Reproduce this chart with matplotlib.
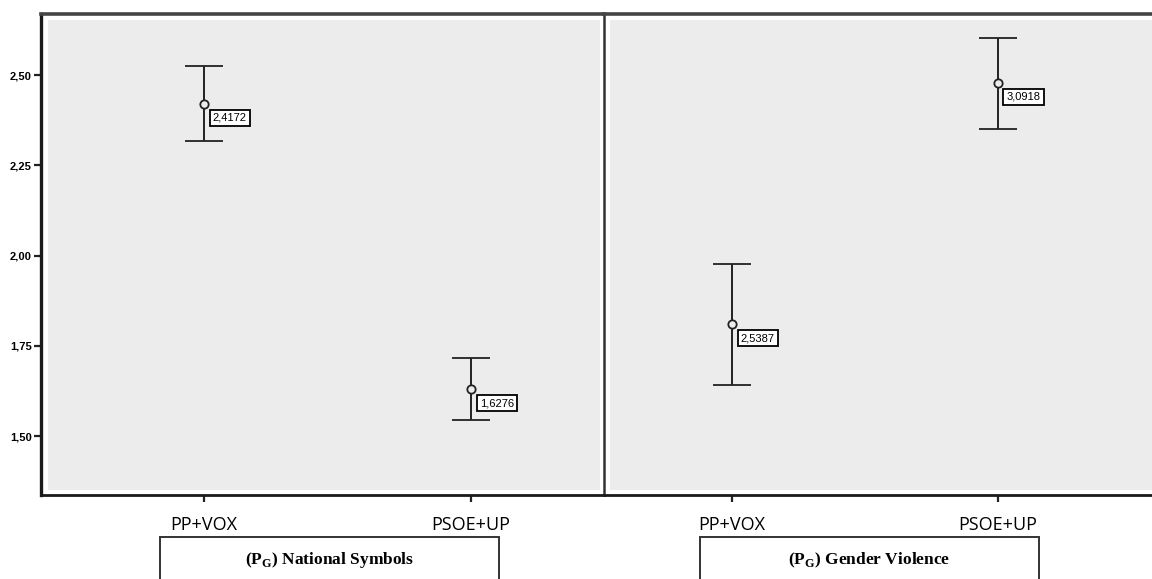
import matplotlib
matplotlib.use("Agg")
import matplotlib.pyplot as plt
from matplotlib.patches import Rectangle

# groups on the x axis of each panel
groups = ["PP+VOX", "PSOE+UP"]

# National Symbols panel (plotted mean and 95% CI ends)
ns_mean = [2.420, 1.630]
ns_low = [2.318, 1.544]
ns_high = [2.526, 1.716]
ns_labels = ["2,4172", "1,6276"]

# Gender Violence panel
gv_mean = [1.810, 2.478]
gv_low = [1.642, 2.350]
gv_high = [1.976, 2.602]
gv_labels = ["2,5387", "3,0918"]

panel_titles = ["National Symbols", "Gender Violence"]

yticks = [1.50, 1.75, 2.00, 2.25, 2.50]
ytick_labels = ["1,50", "1,75", "2,00", "2,25", "2,50"]

plt.rcParams['mathtext.fontset'] = 'custom'
plt.rcParams['mathtext.rm'] = 'Liberation Serif'
plt.rcParams['mathtext.bf'] = 'Liberation Serif:bold'

W, H = 1152, 579
fig = plt.figure(figsize=(W / 100, H / 100), dpi=100)

def px(x0, y0, x1, y1):
    # pixel box (top-left origin) -> figure fraction rect
    return [x0 / W, 1 - y1 / H, (x1 - x0) / W, (y1 - y0) / H]

ax1 = fig.add_axes(px(41, 14, 604, 495))
ax2 = fig.add_axes(px(604, 14, 1170, 495))

def draw_panel(ax, mean, low, high, labels, xlim, inset):
    ax.set_xlim(*xlim)
    ax.set_ylim(1.337, 2.669)
    # light grey plot area sitting inside the frame
    w = ax.get_position().width * W
    h = ax.get_position().height * H
    l, t, r, b = inset
    ax.add_patch(Rectangle((l / w, b / h), 1 - (l + r) / w, 1 - (t + b) / h,
                           transform=ax.transAxes, facecolor="#ececec",
                           edgecolor="none", zorder=0))
    x = list(range(len(groups)))
    yerr = [[m - lo for m, lo in zip(mean, low)], [hi - m for m, hi in zip(mean, high)]]
    ax.errorbar(x, mean, yerr=yerr, fmt="o", mfc="#ececec", mec="#222222",
                ms=6, mew=1.3, ecolor="#222222", elinewidth=1.4,
                capsize=14, capthick=1.7, zorder=3)
    for xi, m, lab in zip(x, mean, labels):
        ax.annotate(lab, (xi, m), xytext=(18.5, -10), textcoords="offset points",
                    ha="center", va="center", fontsize=8,
                    family="Liberation Sans",
                    bbox=dict(boxstyle="square,pad=0.28", fc="white",
                              ec="black", lw=1.3), zorder=4)
    ax.set_xticks(x)
    ax.set_xticklabels(groups, family="Open Sans", fontsize=13)
    ax.tick_params(axis="x", length=5, width=1.6, pad=10, color="#222222")
    ax.spines["bottom"].set_linewidth(2.0)
    ax.spines["bottom"].set_color("#1a1a1a")
    ax.spines["top"].set_linewidth(2.6)
    ax.spines["top"].set_color("#444444")
    ax.spines["right"].set_visible(False)

draw_panel(ax1, ns_mean, ns_low, ns_high, ns_labels, (-0.61, 1.498), (7, 6, 4, 5))
draw_panel(ax2, gv_mean, gv_low, gv_high, gv_labels, (-0.481, 1.647), (6, 6, 0, 5))

ax1.set_yticks(yticks)
ax1.set_yticklabels(ytick_labels, family="Liberation Sans", fontsize=8,
                    fontweight="bold")
ax1.tick_params(axis="y", length=5, width=1.6, pad=1.5, color="#222222")
ax1.spines["left"].set_linewidth(2.4)
ax1.spines["left"].set_color("#1a1a1a")

ax2.set_yticks([])
ax2.spines["left"].set_linewidth(1.8)
ax2.spines["left"].set_color("#333333")

# panel captions in open-bottomed boxes under each panel
for (x0, x1), title in zip([(160, 499), (700, 1039)], panel_titles):
    fig.add_artist(Rectangle((x0 / W, -0.05), (x1 - x0) / W, 0.05 + 1 - 537 / H,
                             transform=fig.transFigure, fill=False,
                             edgecolor="#333333", lw=1.4))
    fig.text((x0 + x1) / 2 / W, 1 - 560 / H,
             r"$\mathbf{(P}_{\mathbf{G}}\mathbf{)}$ " + title,
             ha="center", va="center", family="Liberation Serif",
             fontweight="bold", fontsize=12.5)

fig.savefig("out.png", dpi=100)
